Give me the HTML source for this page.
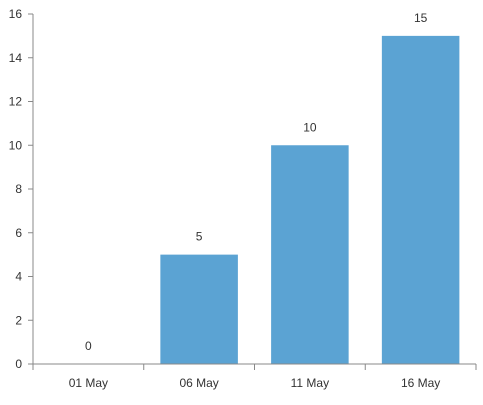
<!DOCTYPE html>
<html><head><meta charset="utf-8"><style>
body{margin:0;background:#fff;}
svg text{font-family:"Liberation Sans",sans-serif;font-size:12px;fill:#333;}
</style></head><body>
<svg id="chart" width="483" height="400"></svg>
<script>
const categories=["01 May","06 May","11 May","16 May"];
const values=[0,5,10,15];
const yTicks=[0,2,4,6,8,10,12,14,16];
const ns="http://www.w3.org/2000/svg";
const svg=document.getElementById('chart');
const x0=33,x1=476,y0=364,y1=14,yMax=16;
const band=(x1-x0)/categories.length;
const bw=band*0.7;
function yS(v){return y0-(v/yMax)*(y0-y1);}
function xS(i){return x0+band*i;}
function mk(t,a){const e=document.createElementNS(ns,t);for(const k in a)e.setAttribute(k,a[k]);svg.appendChild(e);return e;}
values.forEach((v,i)=>{
  const r=mk('rect',{x:xS(i)+(band-bw)/2,y:yS(v),width:bw,height:y0-yS(v),fill:'#5ba3d3'});
  
  
  const t=mk('text',{x:xS(i)+band/2,y:yS(v)-14,'text-anchor':'middle'});
  t.textContent=v;
  
  
  const c=mk('text',{x:xS(i)+band/2,y:387,'text-anchor':'middle'});
  c.textContent=categories[i];
  
  
});
for(let i=0;i<=categories.length;i++){
  const l=mk('line',{x1:xS(i),x2:xS(i),y1:y0,y2:370,stroke:'#888'});
  
  
}
yTicks.forEach(v=>{
  const l=mk('line',{x1:28,x2:x0,y1:yS(v),y2:yS(v),stroke:'#888'});
  
  
  const t=mk('text',{x:22,y:yS(v)+4,'text-anchor':'end'});
  t.textContent=v;
  
  
});
const ya=mk('line',{x1:x0,x2:x0,y1:y1,y2:y0,stroke:'#888'});


const xa=mk('line',{x1:x0,x2:x1,y1:y0,y2:y0,stroke:'#888'});


</script>
</body></html>
